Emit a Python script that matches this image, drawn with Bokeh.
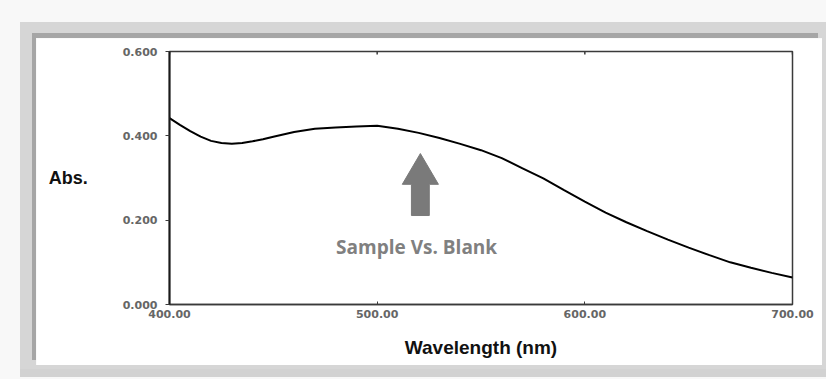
from bokeh.plotting import figure
from bokeh.models import (Range1d, FixedTicker, NumeralTickFormatter,
                          Label, ColumnDataSource)
from bokeh.layouts import column
from bokeh.embed import file_html
from bokeh.resources import INLINE

# Absorption spectrum, sample vs. blank
wavelength_nm = [400, 405, 410, 415, 420, 425, 430, 435, 440, 445, 450,
                 460, 470, 480, 490, 500, 510, 520, 530, 540, 550,
                 560, 570, 580, 590, 600, 610, 620, 630, 640, 650,
                 660, 670, 680, 690, 700]
absorbance = [0.442, 0.426, 0.411, 0.398, 0.388, 0.383, 0.381, 0.383, 0.387, 0.392, 0.398,
              0.409, 0.417, 0.420, 0.422, 0.424, 0.417, 0.407, 0.395, 0.381, 0.366,
              0.347, 0.323, 0.299, 0.271, 0.244, 0.218, 0.195, 0.174, 0.154, 0.135,
              0.117, 0.100, 0.087, 0.075, 0.064]

x_ticks = [400, 500, 600, 700]
y_ticks = [0.0, 0.2, 0.4, 0.6]

p = figure(width=786, height=327, output_backend="svg", toolbar_location=None,
           x_range=Range1d(400, 700), y_range=Range1d(0, 0.6),
           min_border_left=133, min_border_right=30,
           min_border_top=13, min_border_bottom=61,
           background_fill_color="white", border_fill_color="white")
p.margin = (38, 4, 14, 36)
p.styles = {"box-shadow": "-4px -5px 0 0 #a6a6a6, -6px -6px 0 10px #d6d6d6, -6px 2px 0 10px #d2d2d2"}

p.xgrid.visible = False
p.ygrid.visible = False
p.outline_line_color = "#3a3a3a"
p.outline_line_width = 1.5
p.outline_line_alpha = 1.0

tick_font = "DejaVu Sans"

xa = p.xaxis[0]
xa.ticker = FixedTicker(ticks=x_ticks)
xa.formatter = NumeralTickFormatter(format="0.00")
xa.major_tick_in = 3
xa.major_tick_out = 0
xa.minor_tick_line_color = None
xa.axis_line_color = "#3a3a3a"
xa.axis_line_width = 1.5
xa.major_tick_line_color = "#3a3a3a"
xa.major_label_standoff = 5
xa.major_label_text_font = tick_font
xa.major_label_text_font_style = "bold"
xa.major_label_text_font_size = "11px"
xa.major_label_text_color = "#666666"
xa.axis_label = "Wavelength (nm)"
xa.axis_label_standoff = 16
xa.axis_label_text_font = "Liberation Sans"
xa.axis_label_text_font_style = "bold"
xa.axis_label_text_font_size = "19px"
xa.axis_label_text_color = "#111111"

ya = p.yaxis[0]
ya.ticker = FixedTicker(ticks=y_ticks)
ya.formatter = NumeralTickFormatter(format="0.000")
ya.major_tick_in = 0
ya.major_tick_out = 4
ya.minor_tick_line_color = None
ya.axis_line_color = "#1a1a1a"
ya.axis_line_width = 2
ya.major_tick_line_color = "#3a3a3a"
ya.major_label_standoff = 8
ya.major_label_text_font = tick_font
ya.major_label_text_font_style = "bold"
ya.major_label_text_font_size = "11px"
ya.major_label_text_color = "#666666"
ya.axis_label = "Abs."
ya.axis_label_orientation = "horizontal"
ya.axis_label_standoff = 32
ya.axis_label_text_font = "Liberation Sans"
ya.axis_label_text_font_style = "bold"
ya.axis_label_text_font_size = "18px"
ya.axis_label_text_color = "#111111"

# Tick marks along the top edge of the frame
top_y = [0.6] * len(x_ticks)
p.segment(x0=x_ticks, y0=top_y, x1=x_ticks, y1=[0.593] * len(x_ticks),
          line_color="#3a3a3a", line_width=1.5)

# Spectrum curve
src = ColumnDataSource(dict(x=wavelength_nm, y=absorbance))
p.line("x", "y", source=src, line_color="black", line_width=2)

# Block arrow pointing at the band
cx = 520.8
shaft_half, head_half = 4.3, 8.7
tip_y, head_base_y, tail_y = 0.358, 0.285, 0.211
p.patch([cx, cx + head_half, cx + shaft_half, cx + shaft_half,
         cx - shaft_half, cx - shaft_half, cx - head_half],
        [tip_y, head_base_y, head_base_y, tail_y, tail_y, head_base_y, head_base_y],
        fill_color="#7a7a7a", line_color="#7a7a7a", line_width=1)

p.add_layout(Label(x=519, y=0.1375, text="Sample Vs. Blank", text_align="center",
                   text_baseline="middle", text_font="Open Sans",
                   text_font_style="bold", text_font_size="19px", text_color="#808080"))

page = column(p, styles={"background-color": "#f8f8f8"})

open("out.html", "w").write(file_html(page, INLINE))
